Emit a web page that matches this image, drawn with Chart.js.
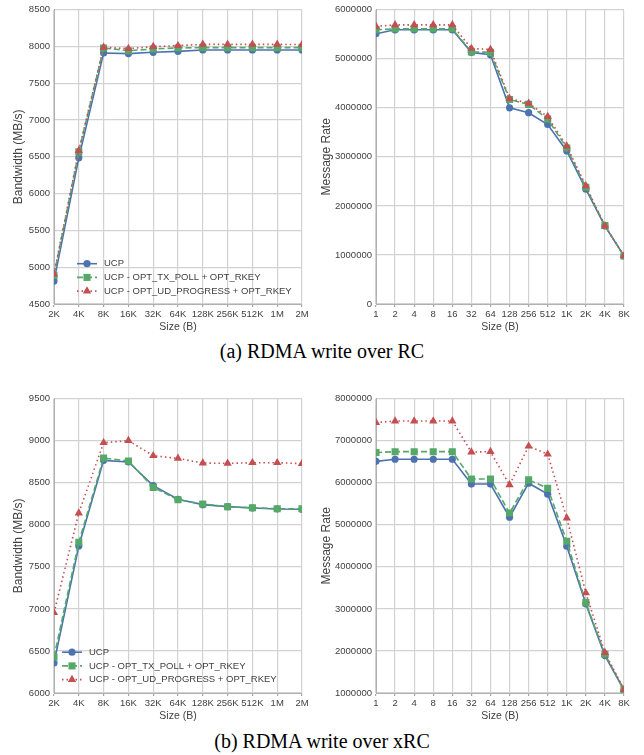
<!DOCTYPE html>
<html>
<head>
<meta charset="utf-8">
<script src="https://cdn.jsdelivr.net/npm/chart.js@4/dist/chart.umd.min.js"></script>
<style>
  body { margin: 0; background: #fff; width: 644px; height: 755px; position: relative; overflow: hidden; }
  canvas { position: absolute; }
  .caption {
    position: absolute; left: 0; width: 644px; text-align: center;
    font-family: "Liberation Serif", "Times New Roman", serif; font-size: 20px; color: #000;
  }
</style>
</head>
<body>
<canvas id="rcBw" width="322" height="335" style="left:0;top:0"></canvas>
<canvas id="rcRate" width="332" height="335" style="left:312px;top:0"></canvas>
<div class="caption" style="top:340px">(a) RDMA write over RC</div>
<canvas id="xrcBw" width="322" height="335" style="left:0;top:389px"></canvas>
<canvas id="xrcRate" width="332" height="335" style="left:312px;top:389px"></canvas>
<div class="caption" style="top:730px">(b) RDMA write over xRC</div>

<script>
// message sizes
const bwSizes = ["2K", "4K", "8K", "16K", "32K", "64K", "128K", "256K", "512K", "1M", "2M"];
const rateSizes = ["1", "2", "4", "8", "16", "32", "64", "128", "256", "512", "1K", "2K", "4K", "8K"];

const seriesNames = ["UCP", "UCP - OPT_TX_POLL + OPT_RKEY", "UCP - OPT_UD_PROGRESS + OPT_RKEY"];

// RC bandwidth (MB/s)
const rcBwUcp    = [4812, 6487, 7912, 7903, 7921, 7934, 7952, 7952, 7952, 7952, 7952];
const rcBwTxPoll = [4889, 6568, 7980, 7943, 7966, 7980, 7984, 7984, 7984, 7984, 7984];
const rcBwUdProg = [4907, 6586, 7989, 7971, 7998, 8011, 8029, 8029, 8029, 8029, 8025];

// RC message rate
const rcRateUcp    = [5510000, 5590000, 5590000, 5590000, 5590000, 5130000, 5080000, 4000000, 3900000, 3660000, 3120000, 2340000, 1590000, 980000];
const rcRateTxPoll = [5590000, 5610000, 5610000, 5610000, 5610000, 5140000, 5130000, 4170000, 4070000, 3770000, 3180000, 2380000, 1600000, 980000];
const rcRateUdProg = [5660000, 5690000, 5690000, 5690000, 5690000, 5210000, 5190000, 4190000, 4090000, 3820000, 3220000, 2410000, 1590000, 980000];

// xRC bandwidth (MB/s)
const xrcBwUcp    = [6357, 7748, 8767, 8747, 8466, 8304, 8240, 8216, 8200, 8188, 8185];
const xrcBwTxPoll = [6428, 7792, 8795, 8759, 8445, 8299, 8248, 8216, 8203, 8192, 8192];
const xrcBwUdProg = [6955, 8140, 8977, 9001, 8822, 8790, 8735, 8731, 8739, 8739, 8728];

// xRC message rate
const xrcRateUcp    = [6510000, 6560000, 6560000, 6560000, 6560000, 5970000, 5970000, 5180000, 5990000, 5730000, 4490000, 3120000, 1890000, 1070000];
const xrcRateTxPoll = [6720000, 6740000, 6740000, 6740000, 6740000, 6090000, 6090000, 5280000, 6070000, 5870000, 4610000, 3150000, 1920000, 1080000];
const xrcRateUdProg = [7430000, 7470000, 7470000, 7470000, 7470000, 6730000, 6740000, 5950000, 6870000, 6680000, 5160000, 3380000, 1960000, 1080000];

const FONT = '"Liberation Sans", Arial, sans-serif';
const styles = [
    { color: "#4c72b0", dash: [], pointStyle: "circle", radius: 3.6, order: 2 },
    { color: "#55a868", dash: [6, 3], pointStyle: "rect", radius: 5, order: 1 },
    { color: "#c44e52", dash: [1.5, 3], pointStyle: "triangle", radius: 4.8, order: 0 }
];

function drawMarker(ctx, style, x, y, r) {
    ctx.beginPath();
    if (style === "circle") {
        ctx.arc(x, y, r, 0, Math.PI * 2);
    } else if (style === "rect") {
        const s = r * Math.SQRT1_2;
        ctx.rect(x - s, y - s, 2 * s, 2 * s);
    } else {
        ctx.moveTo(x, y - r);
        ctx.lineTo(x + r * 0.866, y + r * 0.5);
        ctx.lineTo(x - r * 0.866, y + r * 0.5);
        ctx.closePath();
    }
    ctx.fill();
}

// legend drawn inside the plot area, lower left
const insetLegend = {
    id: "insetLegend",
    afterDatasetsDraw(chart, args, opts) {
        if (!opts.show) return;
        const { ctx, chartArea } = chart;
        ctx.save();
        ctx.font = "9.5px " + FONT;
        ctx.textBaseline = "middle";
        chart.data.datasets.forEach((ds, i) => {
            const y = chartArea.top + opts.top + i * opts.gap;
            const x0 = chartArea.left + opts.left;
            ctx.strokeStyle = ds.borderColor;
            ctx.lineWidth = ds.borderWidth;
            ctx.setLineDash(ds.borderDash);
            ctx.beginPath();
            ctx.moveTo(x0, y);
            ctx.lineTo(x0 + 20, y);
            ctx.stroke();
            ctx.setLineDash([]);
            ctx.fillStyle = ds.borderColor;
            drawMarker(ctx, ds.pointStyle, x0 + 10, y, ds.pointRadius);
            ctx.fillStyle = "#404040";
            ctx.fillText(ds.label, x0 + 27, y);
        });
        ctx.restore();
    }
};

function makeChart(id, labels, series, yTitle, yMin, yMax, yStep, yWidth, titlePad, legend) {
    new Chart(document.getElementById(id), {
        type: "line",
        data: {
            labels: labels,
            datasets: series.map((data, i) => ({
                label: seriesNames[i],
                data: data,
                borderColor: styles[i].color,
                backgroundColor: styles[i].color,
                borderWidth: 1.6,
                borderDash: styles[i].dash,
                pointStyle: styles[i].pointStyle,
                pointRadius: styles[i].radius,
                pointBorderWidth: 0,
                pointBackgroundColor: styles[i].color,
                order: styles[i].order,
                clip: 0,
                tension: 0
            }))
        },
        options: {
            responsive: false,
            animation: false,
            layout: { padding: { top: 9, right: 20, left: 0, bottom: 0 } },
            plugins: {
                legend: { display: false },
                tooltip: { enabled: false },
                insetLegend: legend
            },
            scales: {
                x: {
                    afterFit: s => { s.height = 31; },
                    grid: { color: "#d2d2d2", lineWidth: 1.2, tickLength: 3, tickColor: "#a6a6a6" },
                    border: { color: "#b0b0b0" },
                    ticks: {
                        autoSkip: false, maxRotation: 0, padding: 2,
                        color: "#404040", font: { family: FONT, size: 9.5 }
                    },
                    title: {
                        display: true, text: "Size (B)", color: "#404040",
                        font: { family: FONT, size: 10.5 }, padding: { top: 0, bottom: 2 }
                    }
                },
                y: {
                    min: yMin, max: yMax,
                    afterFit: s => { s.width = yWidth; },
                    grid: { color: "#d2d2d2", lineWidth: 1.2, drawTicks: false },
                    border: { color: "#b0b0b0" },
                    ticks: {
                        stepSize: yStep, padding: 4, callback: v => v,
                        color: "#404040", font: { family: FONT, size: 9.5 }
                    },
                    title: {
                        display: true, text: yTitle, color: "#404040",
                        font: { family: FONT, size: 12 }, padding: { top: titlePad, bottom: 0 }
                    }
                }
            }
        },
        plugins: [insetLegend]
    });
}

makeChart("rcBw", bwSizes, [rcBwUcp, rcBwTxPoll, rcBwUdProg],
    "Bandwidth (MB/s)", 4500, 8500, 500, 54, 11, { show: true, left: 23, top: 254, gap: 13.7 });
makeChart("rcRate", rateSizes, [rcRateUcp, rcRateTxPoll, rcRateUdProg],
    "Message Rate", 0, 6000000, 1000000, 64, 7, { show: false });
makeChart("xrcBw", bwSizes, [xrcBwUcp, xrcBwTxPoll, xrcBwUdProg],
    "Bandwidth (MB/s)", 6000, 9500, 500, 54, 11, { show: true, left: 8, top: 253.5, gap: 13.7 });
makeChart("xrcRate", rateSizes, [xrcRateUcp, xrcRateTxPoll, xrcRateUdProg],
    "Message Rate", 1000000, 8000000, 1000000, 64, 7, { show: false });
</script>
</body>
</html>
